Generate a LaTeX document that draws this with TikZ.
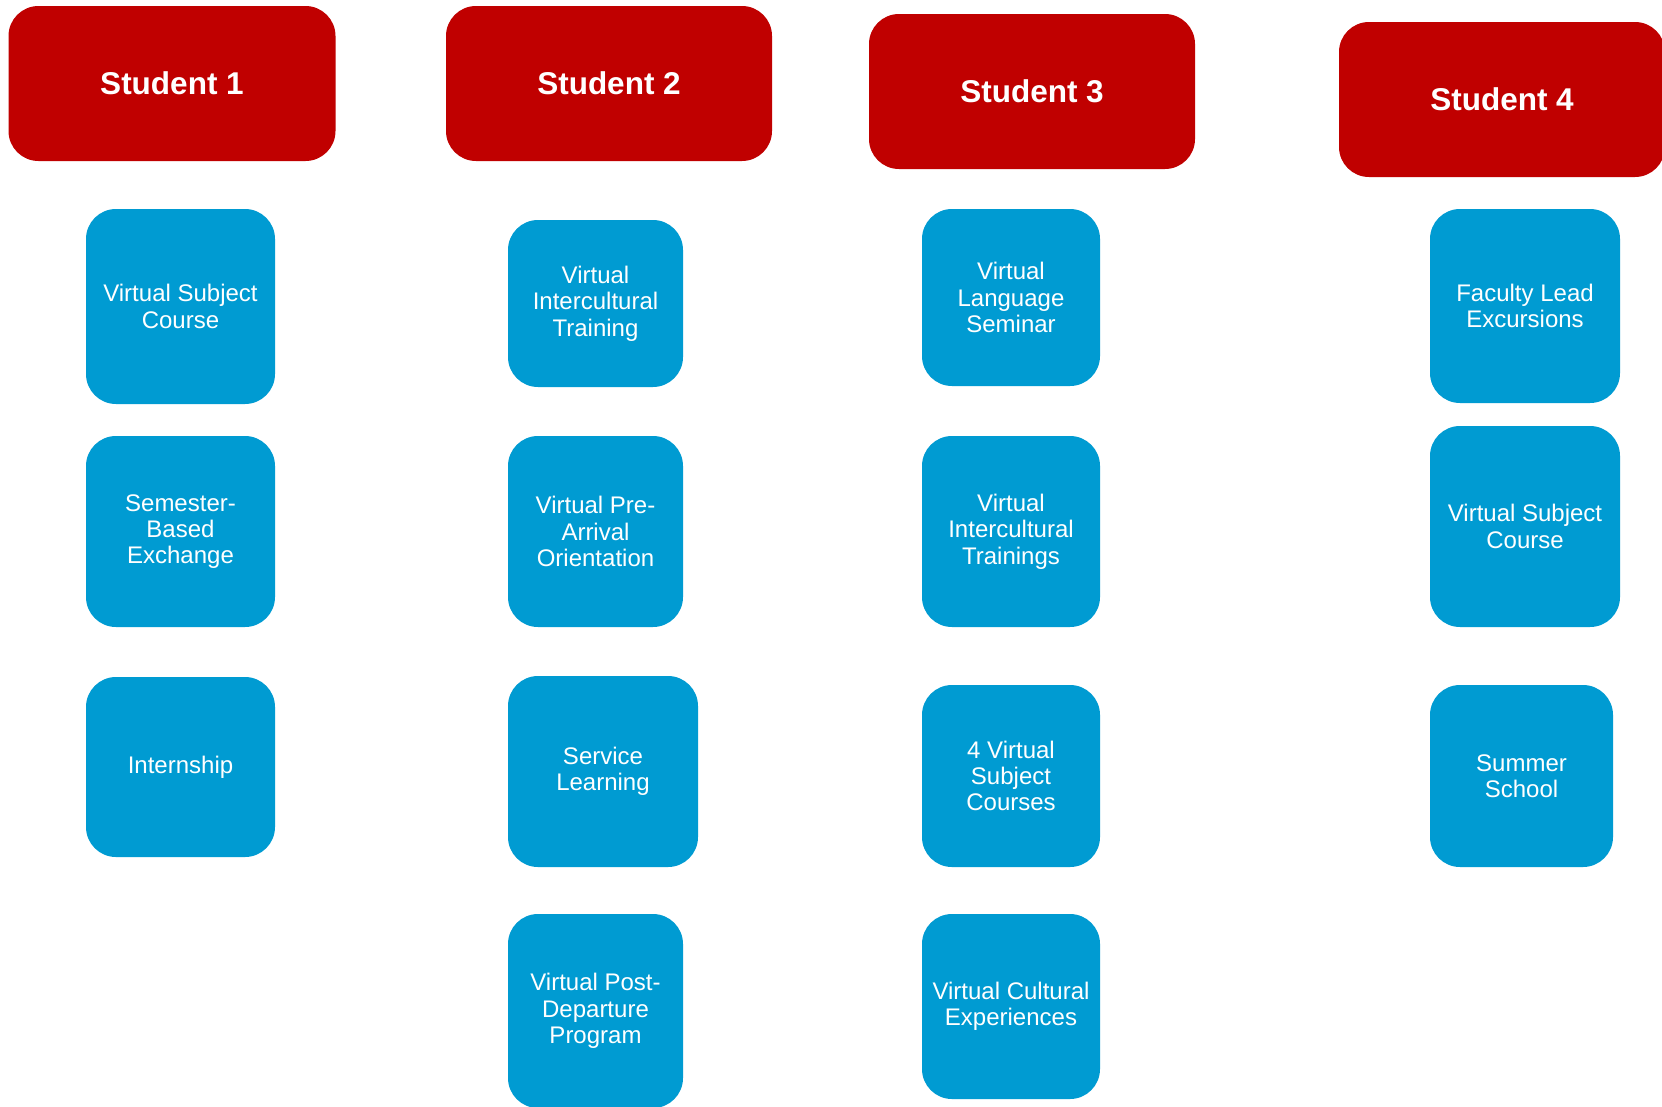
\documentclass[tikz,border=0pt]{standalone}
\usepackage{fontspec}
\setmainfont{Liberation Sans}
\definecolor{hdrred}{RGB}{192,0,0}
\definecolor{itemblue}{RGB}{0,155,210}
\begin{document}
\begin{tikzpicture}[x=1pt,y=-1pt,
  hdr/.style={rectangle, rounded corners=30pt, fill=hdrred, text=white, inner sep=0pt,
    align=center, font=\fontsize{31.5}{34}\selectfont\bfseries},
  item/.style={rectangle, rounded corners=30pt, fill=itemblue, text=white, inner sep=0pt,
    align=center, font=\fontsize{24}{26.3}\selectfont}]
\clip (0,0) rectangle (1662,1106);
\fill[white] (0,0) rectangle (1662,1106);
% headers
\node[hdr, minimum width=327pt, minimum height=155pt] (s1) at (172,83.5) {Student 1};
\node[hdr, minimum width=326pt, minimum height=155pt] (s2) at (609,83.5) {Student 2};
\node[hdr, minimum width=326pt, minimum height=155pt] (s3) at (1032,91.5) {Student 3};
\node[hdr, minimum width=326pt, minimum height=155pt] (s4) at (1502,99.5) {Student 4};
% column 1
\node[item, minimum width=189pt, minimum height=195pt] (c1a) at (180.5,306.5) {Virtual Subject\\Course};
\node[item, minimum width=189pt, minimum height=191pt] (c1b) at (180.5,531.5) {Semester-\\Based\\Exchange};
\node[item, minimum width=189pt, minimum height=180pt] (c1c) at (180.5,767) {Internship};
% column 2
\node[item, minimum width=175pt, minimum height=167pt] (c2a) at (595.5,303.5) {Virtual\\Intercultural\\Training};
\node[item, minimum width=175pt, minimum height=191pt] (c2b) at (595.5,531.5) {Virtual Pre-\\Arrival\\Orientation};
\node[item, minimum width=190pt, minimum height=191pt] (c2c) at (603,771.5) {Service\\Learning};
\node[item, minimum width=175pt, minimum height=194pt] (c2d) at (595.5,1011) {Virtual Post-\\Departure\\Program};
% column 3
\node[item, minimum width=178pt, minimum height=177pt] (c3a) at (1011,297.5) {Virtual\\Language\\Seminar};
\node[item, minimum width=178pt, minimum height=191pt] (c3b) at (1011,531.5) {Virtual\\Intercultural\\Trainings};
\node[item, minimum width=178pt, minimum height=182pt] (c3c) at (1011,776) {4 Virtual\\Subject\\Courses};
\node[item, minimum width=178pt, minimum height=185pt] (c3d) at (1011,1006.5) {Virtual Cultural\\Experiences};
% column 4
\node[item, minimum width=190pt, minimum height=194pt] (c4a) at (1525,306) {Faculty Lead\\Excursions};
\node[item, minimum width=190pt, minimum height=201pt] (c4b) at (1525,526.5) {Virtual Subject\\Course};
\node[item, minimum width=183pt, minimum height=182pt] (c4c) at (1521.5,776) {Summer\\School};
\end{tikzpicture}
\end{document}
